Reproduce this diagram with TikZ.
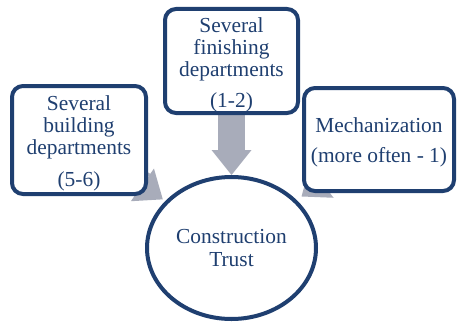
\documentclass[tikz,border=0pt]{standalone}
\usepackage{fontspec}
\setmainfont{Liberation Serif}
\usetikzlibrary{shapes.geometric,arrows.meta,backgrounds}
\definecolor{navy}{HTML}{1F3F70}
\definecolor{arrowgray}{HTML}{A8ACBA}
% taller first line, pushes a block of lines slightly downwards
\newcommand{\toppad}[1]{\rule{0pt}{#1}}
\begin{document}
\begin{tikzpicture}[x=1pt,y=-1pt,
  labeltext/.style={text=navy, font=\fontsize{21.4}{22.3}\selectfont, align=center},
  deptbox/.style={labeltext, draw=navy, line width=4pt, rounded corners=11pt, fill=white, inner sep=0pt},
  trustnode/.style={labeltext, ellipse, draw=navy, line width=4pt, fill=white, inner sep=0pt},
  feed/.style={draw=arrowgray, line width=27pt, -{Triangle[width=40pt,length=25pt,line width=0pt]}}]
\useasboundingbox (0,0) rectangle (457,321);

% departments and the trust they belong to
\node[deptbox, minimum width=134pt, minimum height=108pt] (build) at (79,140)
  {\toppad{21pt}Several\\building\\departments\\[9pt](5-6)};
\node[deptbox, minimum width=133pt, minimum height=104pt] (finish) at (231.5,61)
  {\toppad{22.5pt}Several\\finishing\\departments\\[9pt](1-2)};
\node[deptbox, minimum width=150pt, minimum height=103pt] (mech) at (379,139.5)
  {\toppad{20.5pt}Mechanization\\[8pt](more often - 1)};
\node[trustnode, minimum width=169pt, minimum height=142pt] (trust) at (231.5,248)
  {Construction\\Trust};

% block arrows running behind the boxes into the trust
\begin{scope}[on background layer]
  \draw[feed] (finish.center) -- (trust);
  \draw[feed, shorten >=3pt] (build.center) -- (trust);
  \draw[feed, shorten >=6pt] (mech.center) -- (trust);
\end{scope}
\end{tikzpicture}
\end{document}
